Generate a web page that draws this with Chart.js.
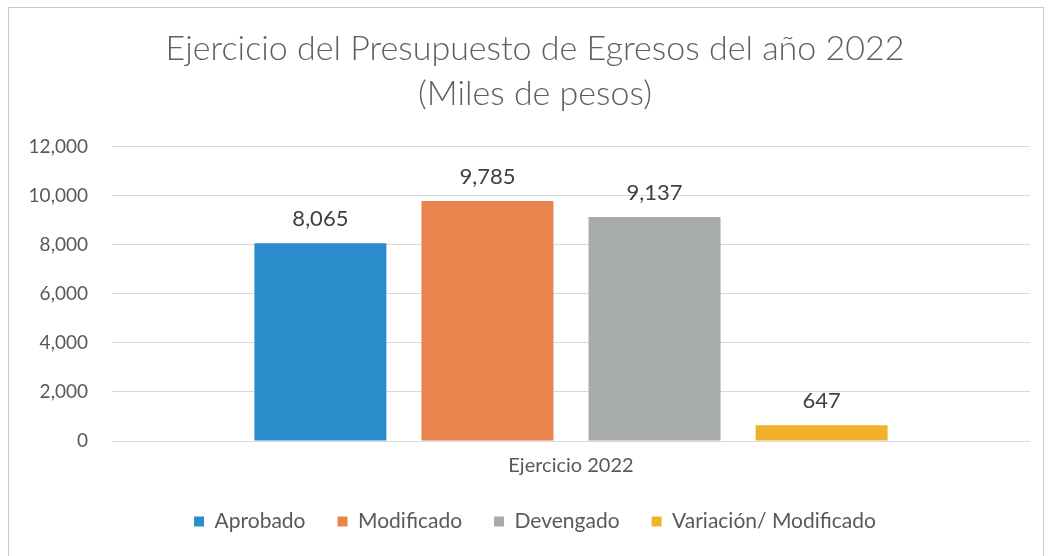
<!DOCTYPE html>
<html>
<head>
<meta charset="utf-8">
<script src="https://cdn.jsdelivr.net/npm/chart.js@4.4.1/dist/chart.umd.min.js"></script>
<style>
  body { margin: 0; background: #fff; }
  #wrap { position: relative; width: 1050px; height: 556px; }
  #frame { position: absolute; left: 8px; top: 7px; width: 1036px; height: 560px; border: 1px solid #c8c8c8; box-sizing: border-box; }
</style>
</head>
<body>
<div id="wrap">
  <div id="frame"></div>
  <canvas id="grafica" width="1050" height="556"></canvas>
</div>
<script>
var categorias = ["Ejercicio 2022"];
var series = ["Aprobado", "Modificado", "Devengado", "Variación/ Modificado"];
var aprobado = [8065];
var modificado = [9785];
var devengado = [9137];
var variacion = [647];
var colores = ['#2a8ccb', '#e9844f', '#a7abaa', '#f0b22a'];
var yTicks = [0, 2000, 4000, 6000, 8000, 10000, 12000];

var fuente = 'Lato, "Open Sans", sans-serif';

// etiquetas de valor encima de cada barra
var etiquetas = {
    id: 'etiquetas',
    afterDatasetsDraw: function(chart) {
        var ctx = chart.ctx;
        ctx.save();
        ctx.font = '22px ' + fuente;
        ctx.fillStyle = '#404040';
        ctx.textAlign = 'center';
        ctx.textBaseline = 'middle';
        chart.data.datasets.forEach(function(ds, i) {
            var meta = chart.getDatasetMeta(i);
            meta.data.forEach(function(bar, j) {
                ctx.fillText(ds.data[j].toLocaleString('en-US'), bar.x, bar.y - 24);
            });
        });
        ctx.restore();
    }
};

var ctx = document.getElementById('grafica').getContext('2d');
var grafica = new Chart(ctx, {
    type: 'bar',
    data: {
        labels: categorias,
        datasets: [
            { label: series[0], data: aprobado, backgroundColor: colores[0] },
            { label: series[1], data: modificado, backgroundColor: colores[1] },
            { label: series[2], data: devengado, backgroundColor: colores[2] },
            { label: series[3], data: variacion, backgroundColor: colores[3] }
        ]
    },
    options: {
        responsive: false,
        animation: false,
        layout: { padding: { top: 27, left: 20, right: 0, bottom: 14 } },
        datasets: { bar: { categoryPercentage: 0.728, barPercentage: 0.79 } },
        plugins: {
            title: {
                display: true,
                text: ['Ejercicio del Presupuesto de Egresos del año 2022', '(Miles de pesos)'],
                color: '#5f5f5f',
                font: { family: fuente, size: 34, weight: 300, lineHeight: 1.32 },
                padding: { top: 0, bottom: 30 }
            },
            legend: {
                position: 'bottom',
                labels: {
                    color: '#595959',
                    font: { family: fuente, size: 21 },
                    boxWidth: 10,
                    boxHeight: 10,
                    padding: 32
                }
            },
            tooltip: { enabled: false }
        },
        scales: {
            x: {
                grid: { display: false },
                border: { display: false },
                ticks: { color: '#595959', font: { family: fuente, size: 20 }, padding: 5 },
                afterFit: function(scale) { scale.height = 38; }
            },
            y: {
                min: 0,
                max: 12000,
                afterBuildTicks: function(scale) {
                    scale.ticks = yTicks.map(function(v) { return { value: v }; });
                },
                afterFit: function(scale) { scale.width = 92; },
                grid: { color: '#d9d9d9', drawTicks: false },
                border: { display: false },
                ticks: {
                    color: '#595959',
                    font: { family: fuente, size: 19 },
                    padding: 24,
                    callback: function(v) { return v.toLocaleString('en-US'); }
                }
            },
            // eje vacio a la derecha, solo reserva margen
            y2: {
                position: 'right',
                grid: { display: false },
                border: { display: false },
                ticks: { display: false },
                afterFit: function(scale) { scale.width = 20; }
            }
        }
    },
    plugins: [etiquetas]
});
</script>
</body>
</html>
